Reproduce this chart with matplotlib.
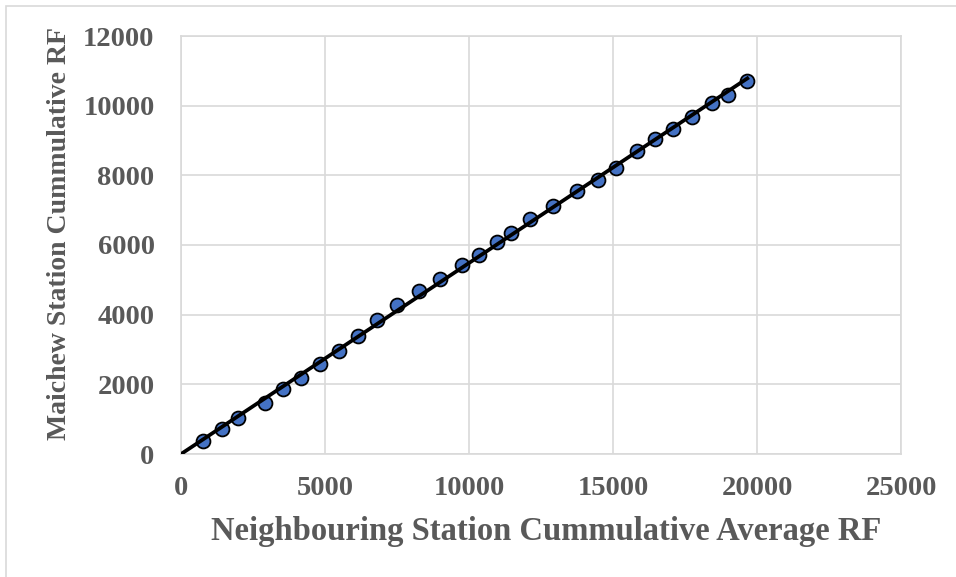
import numpy as np
import matplotlib
matplotlib.use('Agg')
import matplotlib.pyplot as plt
from matplotlib.patches import Rectangle

### data

neighbour_rf = [753, 1413, 1991, 2928, 3530, 4155, 4837, 5486, 6146, 6806,
                7500, 8275, 8993, 9745, 10358, 10961, 11447, 12118, 12906,
                13760, 14490, 15104, 15823, 16458, 17095, 17731, 18437,
                18983, 19663]
maichew_rf = [373, 718, 1025, 1474, 1875, 2191, 2584, 2957, 3388, 3847,
              4278, 4679, 5024, 5426, 5713, 6095, 6353, 6747, 7128,
              7550, 7866, 8220, 8699, 9043, 9321, 9684, 10067,
              10306, 10708]

x_ticks = [0, 5000, 10000, 15000, 20000, 25000]
y_ticks = [0, 2000, 4000, 6000, 8000, 10000, 12000]

### style

plt.rcParams['font.family'] = ['Liberation Serif', 'DejaVu Serif']
plt.rcParams['font.weight'] = 'bold'
txt_col = '#595959'
grid_col = '#d9d9d9'

fig = plt.figure(figsize=(9.56, 5.77), dpi=100)
ax = fig.add_axes([181/956, 1-454/577, 720/956, 418/577])

# outer chart border
fig.patches.append(Rectangle((6/956, -0.1), 1.2, 1-6/577+0.1, transform=fig.transFigure,
                             fill=False, edgecolor=grid_col, linewidth=1.2))

ax.scatter(neighbour_rf, maichew_rf, s=100, color='#4472c4', edgecolor='black',
           linewidth=1.3, zorder=3)

# linear trend line
x = np.array(neighbour_rf)
y = np.array(maichew_rf)
m, c = np.polyfit(x, y, 1)
xs = np.array([0, x.max()])
ax.plot(xs, m*xs + c, color='black', linewidth=2.7, zorder=4)

ax.set_xlim(0, 25000)
ax.set_ylim(0, 12000)
ax.set_xticks(x_ticks)
ax.set_yticks(y_ticks)
ax.tick_params(length=0, labelsize=20.5, labelcolor=txt_col)
ax.tick_params(axis='x', pad=16)
ax.tick_params(axis='y', pad=19)

ax.grid(True, color=grid_col, linewidth=1.2)
ax.set_axisbelow(True)
for s in ax.spines.values():
    s.set_color(grid_col)
    s.set_linewidth(1.2)

ax.set_xlabel('Neighbouring Station Cummulative Average RF', fontsize=23.5,
              color=txt_col, fontweight='bold')
ax.set_ylabel('Maichew Station Cummulative RF', fontsize=20,
              color=txt_col, fontweight='bold')
ax.xaxis.set_label_coords(0.507, -0.148)
ax.yaxis.set_label_coords(-0.152, 0.528)

fig.savefig('out.png', dpi=100)
